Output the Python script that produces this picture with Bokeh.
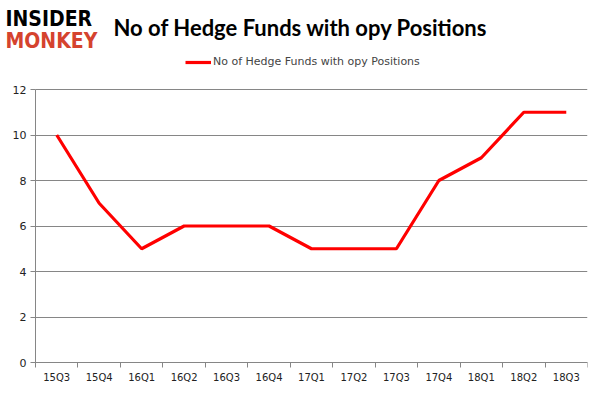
from bokeh.plotting import figure
from bokeh.models import FixedTicker, Label, Legend, LegendItem, ColumnDataSource
from bokeh.embed import file_html
from bokeh.resources import INLINE

quarters = ["15Q3", "15Q4", "16Q1", "16Q2", "16Q3", "16Q4", "17Q1",
            "17Q2", "17Q3", "17Q4", "18Q1", "18Q2", "18Q3"]
funds = [10, 7, 5, 6, 6, 6, 5, 5, 5, 8, 9, 11, 11]
y_ticks = [0, 2, 4, 6, 8, 10, 12]
title_text = "No of Hedge Funds with opy Positions"

n = len(quarters)
xs = [i + 0.5 for i in range(n)]
ppu = 273 / 12  # pixels per y unit

# frame covers the whole canvas except a right margin; axes fixed inside it
p = figure(width=601, height=395, output_backend="svg", toolbar_location=None,
           x_range=(-n * 35 / 552, n), y_range=(-33 / ppu, 362 / ppu),
           min_border_left=0, min_border_right=14, min_border_top=0, min_border_bottom=0)
p.outline_line_color = None
p.background_fill_color = "white"
p.border_fill_color = "white"

src = ColumnDataSource(dict(x=xs, y=funds))
r = p.line("x", "y", source=src, line_color="#FF0000", line_width=3.2)

# x axis, fixed at y=0
p.xaxis.fixed_location = 0
p.xaxis.ticker = FixedTicker(ticks=xs, minor_ticks=list(range(n + 1)))
p.xaxis.bounds = (0, n)
p.xaxis.major_label_overrides = {x: q for x, q in zip(xs, quarters)}
p.xaxis.major_tick_line_color = None
p.xaxis.minor_tick_line_color = "#868686"
p.xaxis.minor_tick_out = 5
p.xaxis.minor_tick_in = 0
p.xaxis.axis_line_color = "#868686"
p.xaxis.major_label_text_font = "DejaVu Sans"
p.xaxis.major_label_text_font_size = "10px"
p.xaxis.major_label_standoff = 3
p.xaxis.major_label_text_color = "#222222"

# y axis, fixed at x=0
p.yaxis.fixed_location = 0
p.yaxis.ticker = FixedTicker(ticks=y_ticks)
p.yaxis.bounds = (0, 12)
p.yaxis.axis_line_color = "#868686"
p.yaxis.major_tick_line_color = "#868686"
p.yaxis.major_tick_out = 5
p.yaxis.major_tick_in = 0
p.yaxis.minor_tick_line_color = None
p.yaxis.major_label_text_font = "DejaVu Sans"
p.yaxis.major_label_text_font_size = "11px"
p.yaxis.major_label_standoff = 4
p.yaxis.major_label_text_color = "#222222"

p.xgrid.grid_line_color = None
p.ygrid.ticker = FixedTicker(ticks=y_ticks)
p.ygrid.cross_bounds = (0, n)
p.ygrid.grid_line_color = "#868686"
p.ygrid.grid_line_width = 1

legend = Legend(items=[LegendItem(label=title_text, renderers=[r])],
                location=(185, 327), orientation="horizontal",
                border_line_color=None, background_fill_alpha=0,
                padding=0, margin=0, spacing=0, glyph_width=26, glyph_height=12,
                label_standoff=2, label_text_font="DejaVu Sans",
                label_text_font_size="11px", label_height=12)
p.add_layout(legend)

# title and logo (screen units measured from frame bottom-left)
p.add_layout(Label(x=113, y=368, x_units="screen", y_units="screen", text=title_text,
                   text_font="Lato", text_font_style="bold", text_font_size="22px",
                   text_color="black", text_baseline="middle", text_align="left"))
p.add_layout(Label(x=5, y=377, x_units="screen", y_units="screen", text="INSIDER",
                   text_font="DejaVu Sans Condensed", text_font_style="bold", text_font_size="21px",
                   text_color="black", text_baseline="middle"))
p.add_layout(Label(x=5, y=355, x_units="screen", y_units="screen", text="MONKEY",
                   text_font="DejaVu Sans Condensed", text_font_style="bold", text_font_size="21px",
                   text_color="#D5432E", text_baseline="middle"))

open("out.html", "w").write(file_html(p, INLINE))
